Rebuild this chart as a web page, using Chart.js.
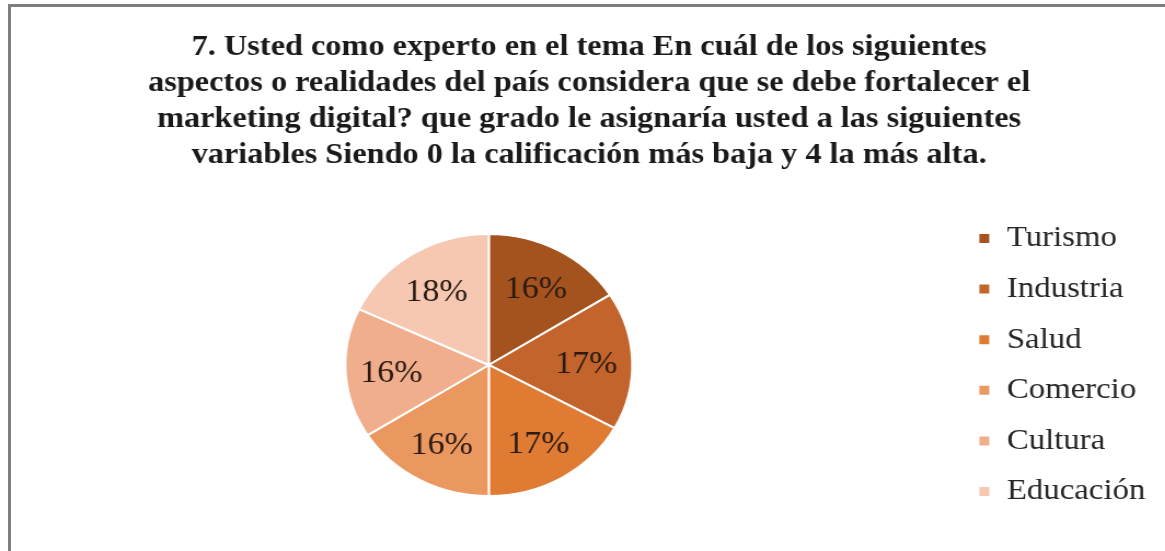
<!DOCTYPE html>
<html lang="es">
<head>
  <meta charset="UTF-8" />
  <title>Marketing digital</title>
  <script src="https://cdn.jsdelivr.net/npm/chart.js"></script>
  <style>
    html, body { margin: 0; padding: 0; background: #fff; overflow: hidden; }
    #frame { position: absolute; left: 8px; top: 4px; width: 1200px; height: 600px;
             border-left: 3px solid #7f7f7f; border-top: 3px solid #7f7f7f; }
    #wrap { position: absolute; left: 0; top: 0; width: 1064px; height: 551px;
            transform: scaleX(1.095); transform-origin: 0 0; }
  </style>
</head>
<body>
  <div id="frame"></div>
  <div id="wrap"><canvas id="pieChart" width="1064" height="551"></canvas></div>

  <script>
  // Data
  const categories = ['Turismo', 'Industria', 'Salud', 'Comercio', 'Cultura', 'Educación'];
  const values = [16, 17, 17, 16, 16, 18];
  const sliceColors = ['#a4531f', '#c2642b', '#e07b33', '#eb9760', '#f1ae8c', '#f6c8b1'];
  const titleLines = [
    '7. Usted como experto en el tema En cuál de los siguientes',
    'aspectos o realidades del país considera que se debe fortalecer el',
    'marketing digital? que grado le asignaría usted a las siguientes',
    'variables Siendo 0 la calificación más baja y 4 la más alta.'
  ];

  const serif = '"Liberation Serif", "Times New Roman", serif';

  // percentage labels inside the slices
  const sliceLabels = {
    id: 'sliceLabels',
    afterDatasetsDraw(chart) {
      const ctx = chart.ctx;
      const meta = chart.getDatasetMeta(0);
      const data = chart.data.datasets[0].data;
      const total = data.reduce((a, b) => a + b, 0);
      ctx.save();
      ctx.font = '31px ' + serif;
      ctx.fillStyle = '#2a1a12';
      ctx.textAlign = 'center';
      ctx.textBaseline = 'middle';
      meta.data.forEach((arc, i) => {
        const p = arc.getProps(['x', 'y', 'startAngle', 'endAngle', 'outerRadius'], true);
        const mid = (p.startAngle + p.endAngle) / 2;
        const r = p.outerRadius * 0.68;
        const txt = Math.round(data[i] / total * 100) + '%';
        ctx.fillText(txt, p.x + Math.cos(mid) * r, p.y + Math.sin(mid) * r + 3);
      });
      ctx.restore();
    }
  };

  new Chart(document.getElementById('pieChart'), {
    type: 'pie',
    data: {
      labels: categories,
      datasets: [{
        data: values,
        backgroundColor: sliceColors,
        borderColor: '#ffffff',
        borderWidth: 2,
        radius: 131
      }]
    },
    options: {
      responsive: false,
      animation: false,
      layout: { padding: { left: 20, right: 8, top: 0, bottom: 1 } },
      plugins: {
        title: {
          display: true,
          text: titleLines,
          color: '#1a1a1a',
          font: { family: serif, size: 29.5, weight: 'bold', lineHeight: 1.22 },
          padding: { top: 29, bottom: 7 }
        },
        legend: {
          position: 'right',
          fullSize: false,
          labels: {
            boxWidth: 11,
            boxHeight: 11,
            padding: 20.6,
            color: '#262626',
            font: { family: serif, size: 30 }
          }
        },
        tooltip: { enabled: false }
      }
    },
    plugins: [sliceLabels]
  });
  </script>
</body>
</html>
